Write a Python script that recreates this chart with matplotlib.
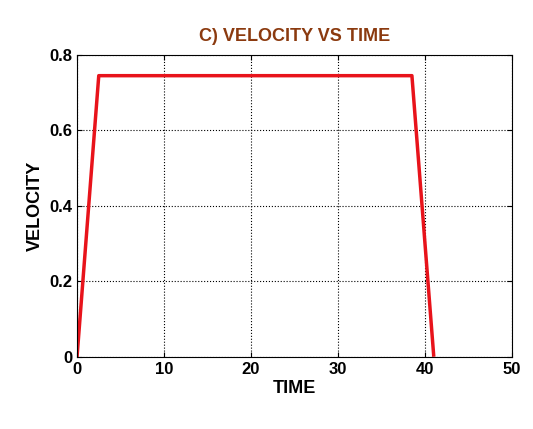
import matplotlib
matplotlib.use("Agg")
import matplotlib.pyplot as plt

# velocity profile
time = [0, 2.5, 38.5, 41]
velocity = [0, 0.745, 0.745, 0.005]

plt.rcParams['font.family'] = ['Liberation Sans', 'DejaVu Sans']
plt.rcParams['font.weight'] = 'bold'

fig = plt.figure(figsize=(5.33, 4.29), dpi=100)
ax = fig.add_axes([0.1445, 0.168, 0.816, 0.704])
ax.plot(time, velocity, color='#e8131b', linewidth=2.5)
ax.set_xlim(0, 50)
ax.set_ylim(0, 0.8)
ax.set_xticks([0, 10, 20, 30, 40, 50])
ax.set_yticks([0, 0.2, 0.4, 0.6, 0.8])
ax.set_yticklabels(['0', '0.2', '0.4', '0.6', '0.8'])
ax.grid(True, linestyle=':', color='black', linewidth=0.8)
ax.tick_params(direction='in', labelsize=12, top=True, right=True)
for s in ax.spines.values():
    s.set_linewidth(0.8)
ax.set_xlabel('TIME', fontsize=13, fontweight='bold', labelpad=2)
ax.set_ylabel('VELOCITY', fontsize=13, fontweight='bold')
ax.set_title('C) VELOCITY VS TIME', fontsize=13, fontweight='bold', color='#8b3a0f', pad=10)

fig.savefig('out.png', dpi=100)
